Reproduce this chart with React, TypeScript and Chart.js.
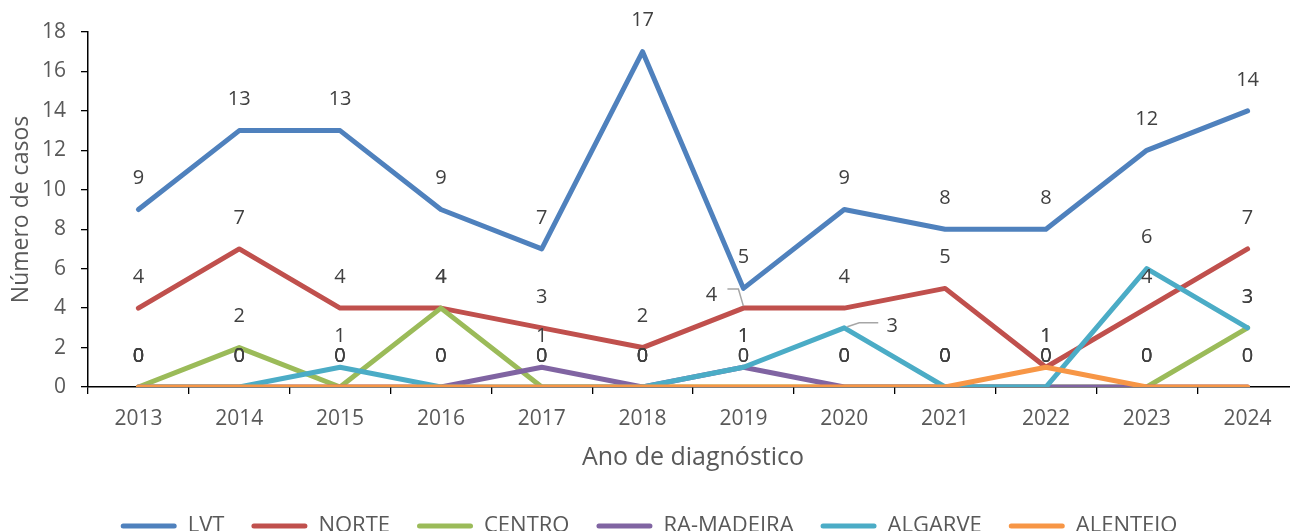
import React, { useEffect, useRef } from "react";
import { Chart, registerables } from "chart.js";

Chart.register(...registerables);

const years = ["2013", "2014", "2015", "2016", "2017", "2018", "2019", "2020", "2021", "2022", "2023", "2024"];
const lvt = [9, 13, 13, 9, 7, 17, 5, 9, 8, 8, 12, 14];
const norte = [4, 7, 4, 4, 3, 2, 4, 4, 5, 1, 4, 7];
const centro = [0, 2, 0, 4, 0, 0, 0, 0, 0, 0, 0, 3];
const madeira = [0, 0, 0, 0, 1, 0, 1, 0, 0, 0, 0, 0];
const algarve = [0, 0, 1, 0, 0, 0, 1, 3, 0, 0, 6, 3];
const alentejo = [0, 0, 0, 0, 0, 0, 0, 0, 0, 1, 0, 0];
const yTicks = [0, 2, 4, 6, 8, 10, 12, 14, 16, 18];

const FONT = "'Open Sans', 'Noto Sans', sans-serif";
const TXT = "#595959";
const LBL = "#404040";

// label nudges (relative to point), with leader lines, as in the source
const nudges: Record<string, { dx: number; dy: number; leader: number[][] }> = {
  "1:6": { dx: -32, dy: -13, leader: [[-16, -19], [-5, -19], [0, -2]] },
  "4:7": { dx: 48, dy: -2, leader: [[3, -1], [15, -5], [34, -5]] },
};

const dataLabels = {
  id: "dataLabels",
  afterDatasetsDraw(chart: any) {
    const ctx = chart.ctx;
    ctx.save();
    ctx.font = `20px ${FONT}`;
    ctx.textAlign = "center";
    ctx.textBaseline = "middle";
    chart.data.datasets.forEach((ds: any, i: number) => {
      const meta = chart.getDatasetMeta(i);
      meta.data.forEach((pt: any, j: number) => {
        const n = nudges[`${i}:${j}`];
        if (n) {
          ctx.strokeStyle = "#A6A6A6";
          ctx.lineWidth = 1.5;
          ctx.beginPath();
          n.leader.forEach((p, k) => {
            if (k === 0) ctx.moveTo(pt.x + p[0], pt.y + p[1]);
            else ctx.lineTo(pt.x + p[0], pt.y + p[1]);
          });
          ctx.stroke();
        }
        ctx.fillStyle = LBL;
        const dx = n ? n.dx : 0;
        const dy = n ? n.dy : -31;
        ctx.fillText(String(ds.data[j]), pt.x + dx, pt.y + dy);
      });
    });
    ctx.restore();
  },
};

function series(label: string, data: number[], color: string, order: number) {
  return {
    label,
    data,
    borderColor: color,
    backgroundColor: color,
    borderWidth: 5,
    borderCapStyle: "round" as const,
    borderJoinStyle: "round" as const,
    pointRadius: 0,
    tension: 0,
    fill: false,
    order,
  };
}

export default function App() {
  const ref = useRef<HTMLCanvasElement>(null);
  useEffect(() => {
    document.documentElement.style.overflow = "hidden";
    const chart = new Chart(ref.current!, {
      type: "line",
      data: {
        labels: years,
        datasets: [
          series("LVT", lvt, "#4F81BD", 6),
          series("NORTE", norte, "#C0504D", 5),
          series("CENTRO", centro, "#9BBB59", 4),
          series("RA-MADEIRA", madeira, "#8064A2", 3),
          series("ALGARVE", algarve, "#4BACC6", 2),
          series("ALENTEJO", alentejo, "#F79646", 1),
        ],
      },
      options: {
        responsive: false,
        animation: false,
        layout: { padding: { top: 32, left: 0, right: 0, bottom: -16 } },
        plugins: {
          tooltip: { enabled: false },
          legend: {
            position: "bottom",
            labels: {
              boxWidth: 56,
              boxHeight: 5,
              padding: 27,
              color: TXT,
              font: { family: FONT, size: 22 },
              useBorderRadius: true,
              borderRadius: 2.5,
              generateLabels: (c: any) =>
                Chart.defaults.plugins.legend.labels
                  .generateLabels(c)
                  .sort((a: any, b: any) => a.datasetIndex - b.datasetIndex)
                  .map((l: any) => ({ ...l, lineWidth: 0 })),
            },
          },
        },
        scales: {
          x: {
            type: "category",
            offset: true,
            grid: { offset: true, drawOnChartArea: false, drawTicks: true, tickLength: 7, color: "#000", lineWidth: 1.3 },
            border: { display: true, color: "#000", width: 1.5 },
            ticks: { color: TXT, font: { family: FONT, size: 21 }, padding: 12, maxRotation: 0 },
            title: {
              display: true,
              text: "Ano de diagnóstico",
              color: TXT,
              font: { family: FONT, size: 25 },
              padding: { top: 15, bottom: 15 },
            },
            afterFit: (s: any) => {
              s.height = 101;
            },
          },
          y: {
            min: 0,
            max: 18,
            afterBuildTicks: (s: any) => {
              s.ticks = yTicks.map((v) => ({ value: v }));
            },
            grid: { drawOnChartArea: false, drawTicks: true, tickLength: 7, color: "#000", lineWidth: 1.3 },
            border: { display: true, color: "#000", width: 1.5 },
            ticks: { color: TXT, font: { family: FONT, size: 21 }, padding: 15 },
            title: {
              display: true,
              text: "Número de casos",
              color: TXT,
              font: { family: FONT, size: 23 },
              padding: { top: 8, bottom: 8 },
            },
            afterFit: (s: any) => {
              s.width = 88;
            },
          },
        },
      },
      plugins: [dataLabels],
    } as any);
    return () => chart.destroy();
  }, []);
  return (
    <div style={{ position: "fixed", left: 0, top: 0, width: 1298, height: 531, background: "#fff", overflow: "hidden" }}>
      <canvas ref={ref} width={1298} height={531} style={{ display: "block" }} />
    </div>
  );
}
